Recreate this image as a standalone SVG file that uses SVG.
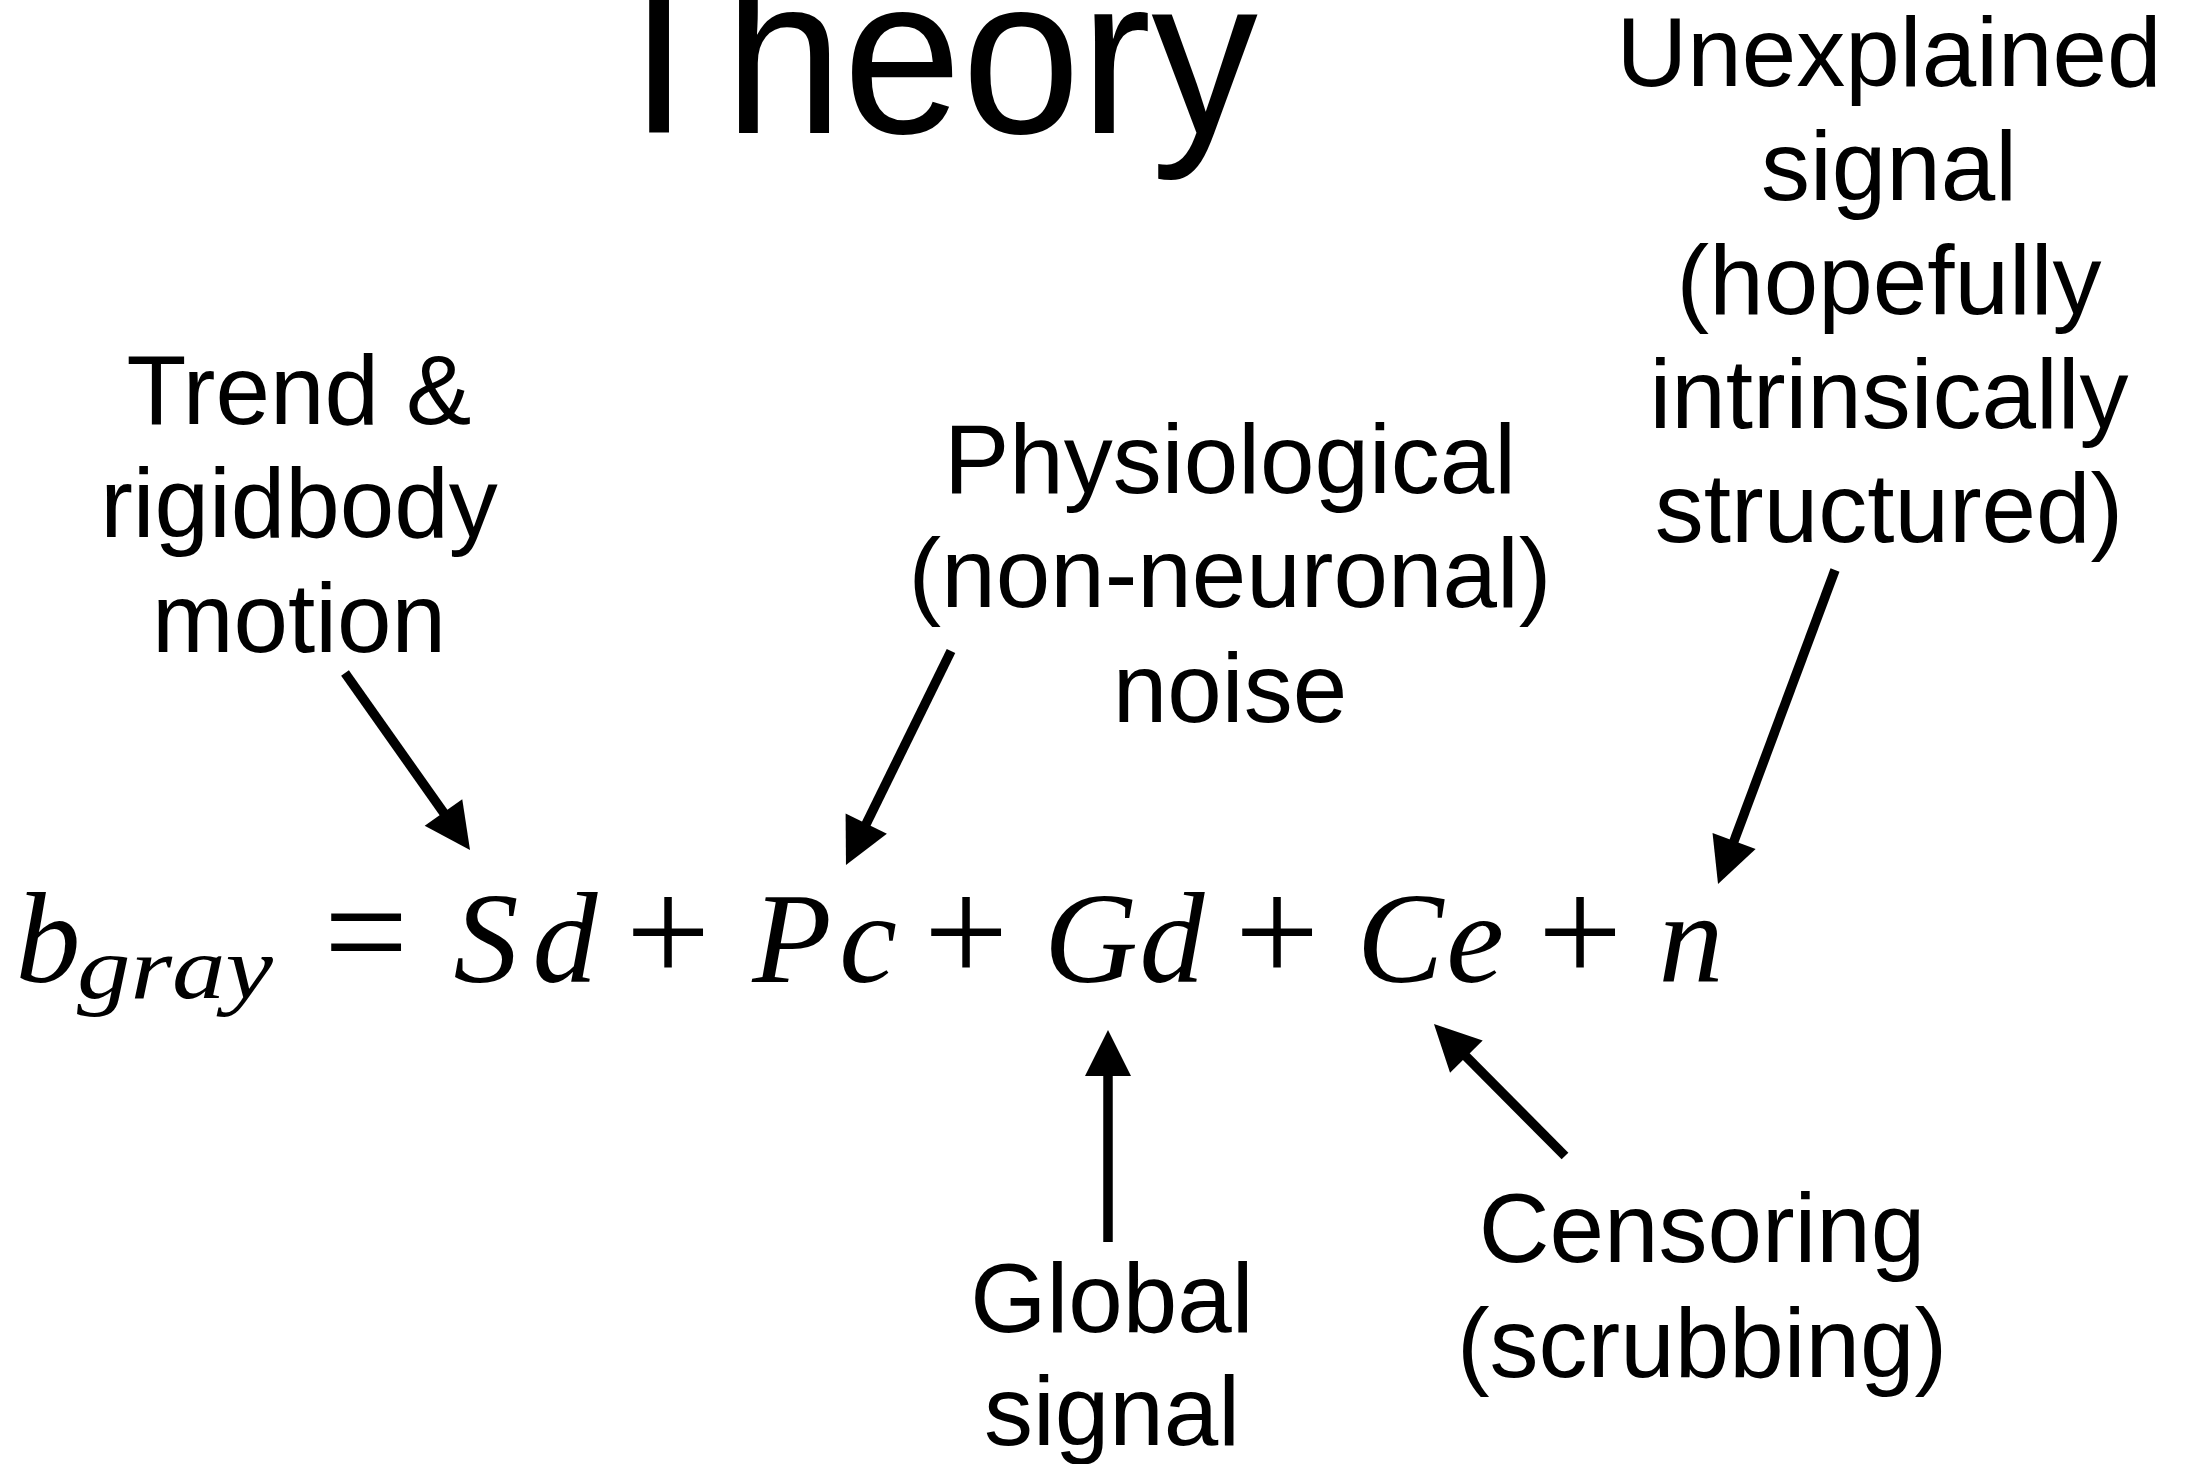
<svg xmlns="http://www.w3.org/2000/svg" width="2194" height="1464" viewBox="0 0 2194 1464">
<style>
.lbl{font-family:"Liberation Sans","Helvetica Neue",Arial,sans-serif;font-size:98px;fill:#000;text-anchor:middle}
.title{font-family:"Liberation Sans","Helvetica Neue",Arial,sans-serif;font-size:224px;fill:#000;text-anchor:middle}
.math{font-family:"Liberation Serif","Times New Roman",serif;font-style:italic;font-size:130px;fill:#000;text-anchor:middle}
.sub{font-family:"Liberation Serif","Times New Roman",serif;font-style:italic;font-size:88px;fill:#000}
.op{font-family:"Liberation Serif","Times New Roman",serif;font-size:150px;fill:#000;text-anchor:middle}
.arr{stroke:#000;stroke-width:9.5;fill:none;marker-end:url(#head)}
</style>
<defs>
<marker id="head" markerUnits="userSpaceOnUse" markerWidth="120" markerHeight="120" viewBox="-60 -60 120 120" refX="0" refY="0" orient="auto" overflow="visible">
<path d="M-16,-23 L30,0 L-16,23 Z" fill="#000"/>
</marker>
</defs>
<rect width="2194" height="1464" fill="#fff"/>
<g id="title"><text class="title" x="926" y="133" textLength="664" lengthAdjust="spacingAndGlyphs">Theory</text></g>
<g id="equation">
<text class="math" y="982"><tspan x="48">b</tspan></text>
<text class="sub" x="77" y="998" textLength="196" lengthAdjust="spacingAndGlyphs">gray</text>
<text class="op" y="982"><tspan x="366">=</tspan><tspan x="668">+</tspan><tspan x="966">+</tspan><tspan x="1277">+</tspan><tspan x="1580">+</tspan></text>
<text class="math" y="982"><tspan x="486">S</tspan><tspan x="565">d</tspan><tspan x="792">P</tspan><tspan x="868">c</tspan><tspan x="1091">G</tspan><tspan x="1172">d</tspan><tspan x="1400">C</tspan><tspan x="1475">e</tspan><tspan x="1691">n</tspan></text>
</g>
<g id="trend"><text class="lbl"><tspan x="299" y="424">Trend &amp;</tspan><tspan x="299" y="537">rigidbody</tspan><tspan x="299" y="652">motion</tspan></text></g>
<g id="physio"><text class="lbl"><tspan x="1230" y="493">Physiological</tspan><tspan x="1230" y="607">(non-neuronal)</tspan><tspan x="1230" y="722">noise</tspan></text></g>
<g id="unexplained"><text class="lbl"><tspan x="1889" y="86">Unexplained</tspan><tspan x="1889" y="200">signal</tspan><tspan x="1889" y="314">(hopefully</tspan><tspan x="1889" y="428">intrinsically</tspan><tspan x="1889" y="542">structured)</tspan></text></g>
<g id="global"><text class="lbl"><tspan x="1112" y="1332">Global</tspan><tspan x="1112" y="1445">signal</tspan></text></g>
<g id="censoring"><text class="lbl"><tspan x="1702" y="1262">Censoring</tspan><tspan x="1702" y="1377">(scrubbing)</tspan></text></g>
<g id="connectors">
<line class="arr" x1="345" y1="673" x2="452.7" y2="825.5"/>
<line class="arr" x1="951" y1="651" x2="859.2" y2="838.1"/>
<line class="arr" x1="1108" y1="1242" x2="1108" y2="1060"/>
<line class="arr" x1="1565" y1="1156" x2="1455.1" y2="1045.3"/>
<line class="arr" x1="1835" y1="570" x2="1728.5" y2="855.9"/>
</g>
</svg>
